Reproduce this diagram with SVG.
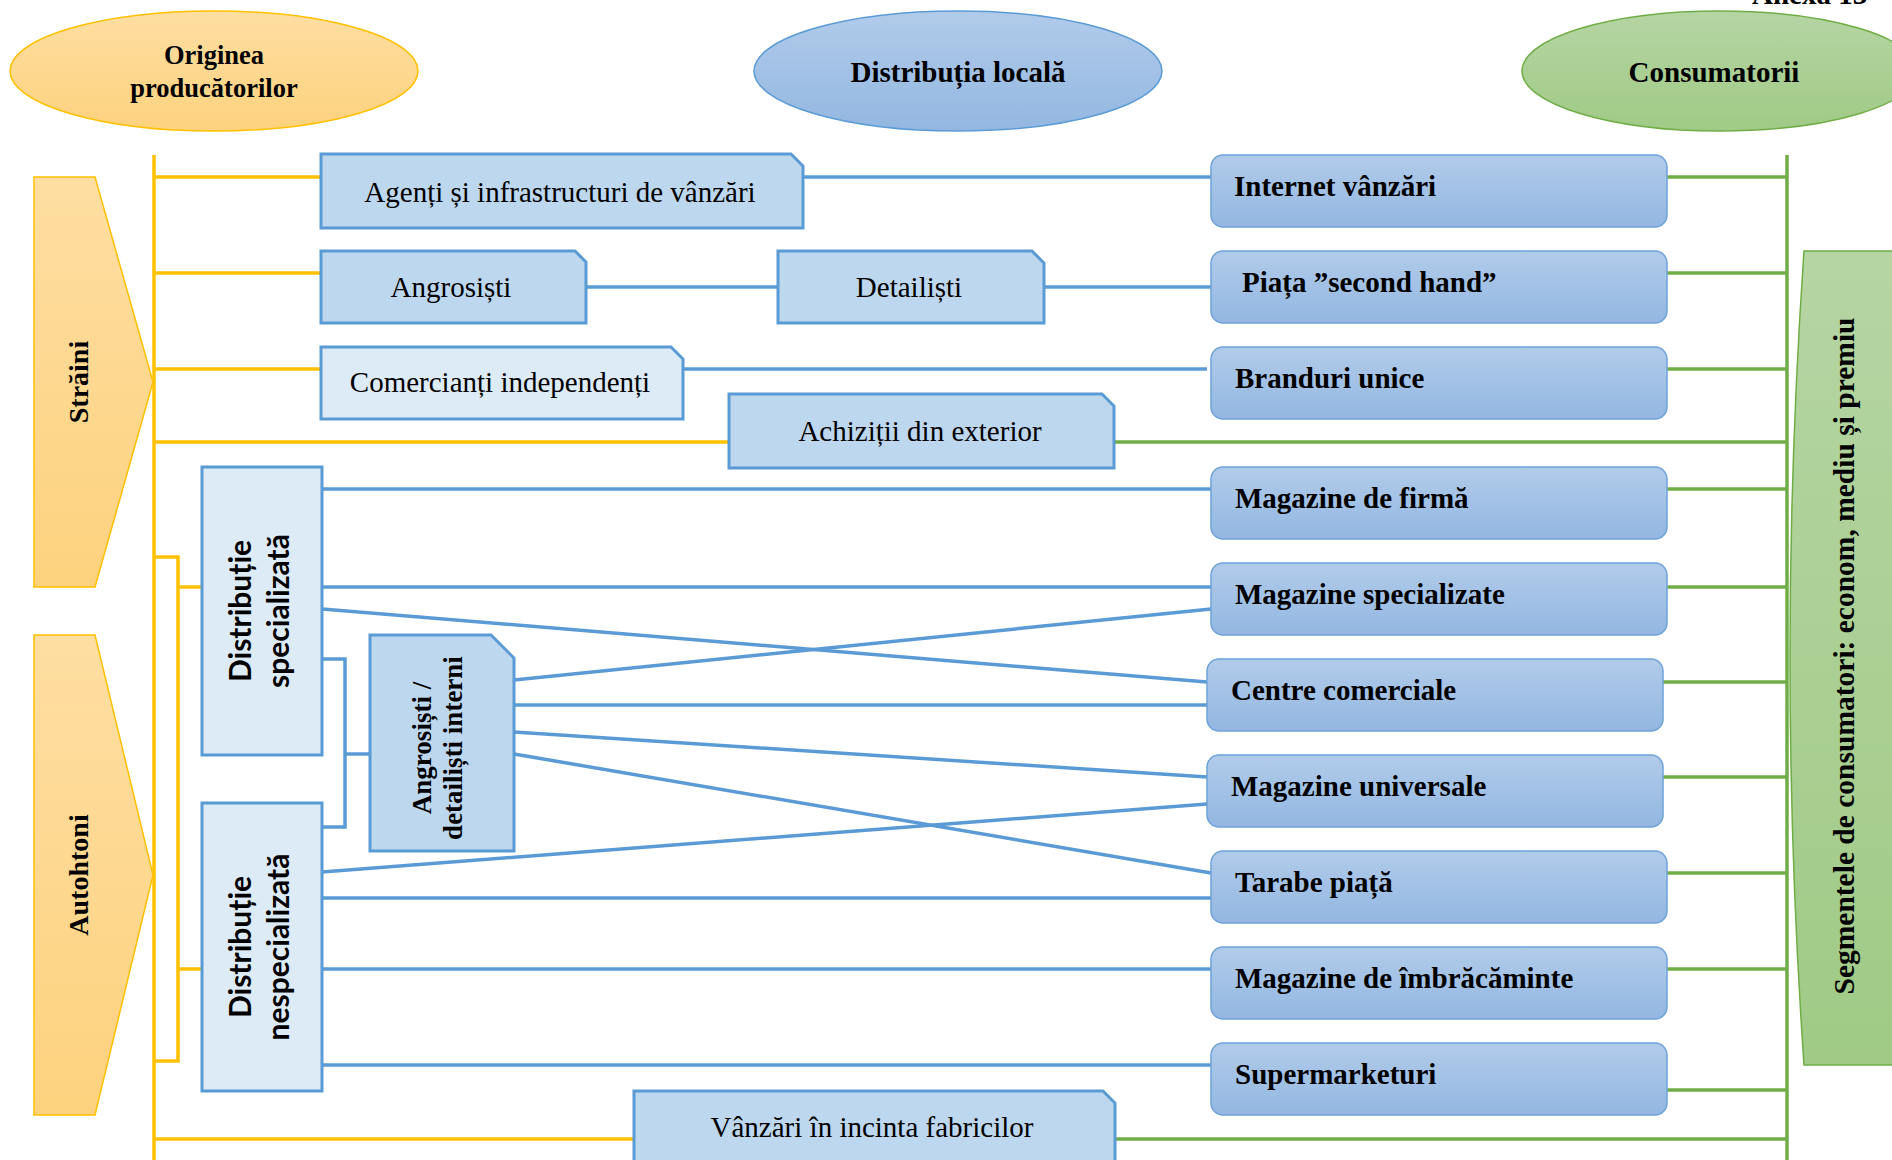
<svg xmlns="http://www.w3.org/2000/svg" width="1892" height="1160" viewBox="0 0 1892 1160">
  <defs>
    <linearGradient id="gOrange" x1="0" y1="0" x2="0" y2="1">
      <stop offset="0" stop-color="#fedea2"/>
      <stop offset="1" stop-color="#fdd27e"/>
    </linearGradient>
    <linearGradient id="gBlue" x1="0" y1="0" x2="0" y2="1">
      <stop offset="0" stop-color="#b1cbea"/>
      <stop offset="1" stop-color="#93b7e1"/>
    </linearGradient>
    <linearGradient id="gGreen" x1="0" y1="0" x2="0" y2="1">
      <stop offset="0" stop-color="#b5d5a3"/>
      <stop offset="1" stop-color="#a0ca86"/>
    </linearGradient>
    <style>
      .serif { font-family: "Liberation Serif", "Times New Roman", serif; fill: #000; }
      .b { font-weight: bold; }
      .title { font-size: 29px; font-weight: bold; text-anchor: middle; }
      .lbl { font-size: 29px; text-anchor: middle; }
      .rlbl { font-size: 29px; font-weight: bold; }
      .sans { font-family: Lato, "Liberation Sans", Arial, sans-serif; font-weight: bold; font-size: 30px; text-anchor: middle; fill: #000; }
      .snip { fill: #bdd7ee; stroke: #5b9bd5; stroke-width: 3; }
      .pale { fill: #ddebf7; stroke: #5b9bd5; stroke-width: 3; }
      .rbox { fill: url(#gBlue); stroke: #6ea2d9; stroke-width: 1.5; }
      .origin { fill: url(#gOrange); stroke: #ffc000; stroke-width: 1.5; }
      .yl { stroke: #ffc000; stroke-width: 3.5; fill: none; }
      .bl { stroke: #5b9bd5; stroke-width: 3.5; fill: none; }
      .gl { stroke: #70ad47; stroke-width: 3.5; fill: none; }
    </style>
  </defs>

  <rect width="1892" height="1160" fill="#fff"/>

  <!-- page label -->
  <text class="serif b" x="1752" y="4" font-size="29">Anexa 13</text>

  <!-- column headers -->
  <g id="hdr-origin">
    <ellipse cx="214" cy="71" rx="204" ry="60" class="origin"/>
    <text class="serif b" x="214" y="64" font-size="26.5" text-anchor="middle">Originea</text>
    <text class="serif b" x="214" y="97" font-size="26.5" text-anchor="middle">producătorilor</text>
  </g>
  <g id="hdr-local">
    <ellipse cx="958" cy="71" rx="204" ry="60" fill="url(#gBlue)" stroke="#5b9bd5" stroke-width="1.5"/>
    <text class="serif title" x="958" y="82">Distribuția locală</text>
  </g>
  <g id="hdr-consumers">
    <ellipse cx="1720" cy="71" rx="198" ry="60" fill="url(#gGreen)" stroke="#70ad47" stroke-width="1.5"/>
    <text class="serif title" x="1714" y="82">Consumatorii</text>
  </g>

  <!-- connectors -->
  <g id="connectors">
    <!-- producer side (yellow) -->
    <line class="yl" x1="154" y1="155" x2="154" y2="1160"/>
    <line class="yl" x1="154" y1="177" x2="321" y2="177"/>
    <line class="yl" x1="154" y1="273" x2="321" y2="273"/>
    <line class="yl" x1="154" y1="369" x2="321" y2="369"/>
    <line class="yl" x1="154" y1="442" x2="729" y2="442"/>
    <line class="yl" x1="154" y1="1139" x2="634" y2="1139"/>
    <polyline class="yl" points="154,557 178,557 178,1061 154,1061"/>
    <line class="yl" x1="178" y1="587" x2="202" y2="587"/>
    <line class="yl" x1="178" y1="969" x2="202" y2="969"/>

    <!-- local distribution (blue) -->
    <line class="bl" x1="803" y1="177" x2="1211" y2="177"/>
    <line class="bl" x1="586" y1="287" x2="778" y2="287"/>
    <line class="bl" x1="1044" y1="287" x2="1211" y2="287"/>
    <line class="bl" x1="683" y1="369" x2="1207" y2="369"/>
    <line class="bl" x1="322" y1="489" x2="1211" y2="489"/>
    <line class="bl" x1="322" y1="587" x2="1211" y2="587"/>
    <line class="bl" x1="322" y1="609" x2="1207" y2="682"/>
    <polyline class="bl" points="322,659 345,659 345,827 322,827"/>
    <line class="bl" x1="345" y1="754" x2="370" y2="754"/>
    <line class="bl" x1="514" y1="680" x2="1211" y2="609"/>
    <line class="bl" x1="514" y1="705" x2="1207" y2="705"/>
    <line class="bl" x1="514" y1="732" x2="1207" y2="777"/>
    <line class="bl" x1="514" y1="754" x2="1211" y2="873"/>
    <line class="bl" x1="322" y1="872" x2="1207" y2="804"/>
    <line class="bl" x1="322" y1="898" x2="1211" y2="898"/>
    <line class="bl" x1="322" y1="969" x2="1211" y2="969"/>
    <line class="bl" x1="322" y1="1065" x2="1211" y2="1065"/>

    <!-- consumer side (green) -->
    <line class="gl" x1="1787" y1="155" x2="1787" y2="1160"/>
    <line class="gl" x1="1667" y1="177" x2="1787" y2="177"/>
    <line class="gl" x1="1667" y1="273" x2="1787" y2="273"/>
    <line class="gl" x1="1667" y1="369" x2="1787" y2="369"/>
    <line class="gl" x1="1114" y1="442" x2="1787" y2="442"/>
    <line class="gl" x1="1667" y1="489" x2="1787" y2="489"/>
    <line class="gl" x1="1667" y1="587" x2="1787" y2="587"/>
    <line class="gl" x1="1663" y1="682" x2="1787" y2="682"/>
    <line class="gl" x1="1663" y1="777" x2="1787" y2="777"/>
    <line class="gl" x1="1667" y1="873" x2="1787" y2="873"/>
    <line class="gl" x1="1667" y1="969" x2="1787" y2="969"/>
    <line class="gl" x1="1667" y1="1090" x2="1787" y2="1090"/>
    <line class="gl" x1="1114" y1="1139" x2="1787" y2="1139"/>
  </g>

  <!-- producer origin arrows -->
  <g id="straini">
    <path class="origin" d="M34 177 H95 L153 382 L95 587 H34 Z"/>
    <text class="serif b" font-size="28" text-anchor="middle" transform="translate(88 382) rotate(-90)">Străini</text>
  </g>
  <g id="autohtoni">
    <path class="origin" d="M34 635 H95 L153 875 L95 1115 H34 Z"/>
    <text class="serif b" font-size="28" text-anchor="middle" transform="translate(88 875) rotate(-90)">Autohtoni</text>
  </g>

  <!-- intermediaries -->
  <g id="agenti">
    <path class="snip" d="M321 154 H791 L803 166 V228 H321 Z"/>
    <text class="serif lbl" x="560" y="202">Agenți și infrastructuri de vânzări</text>
  </g>
  <g id="angrosisti">
    <path class="snip" d="M321 251 H575 L586 262 V323 H321 Z"/>
    <text class="serif lbl" x="451" y="297">Angrosiști</text>
  </g>
  <g id="detailisti">
    <path class="snip" d="M778 251 H1032 L1044 263 V323 H778 Z"/>
    <text class="serif lbl" x="909" y="297">Detailiști</text>
  </g>
  <g id="comercianti">
    <path class="pale" d="M321 347 H671 L683 359 V419 H321 Z"/>
    <text class="serif lbl" x="500" y="392">Comercianți independenți</text>
  </g>
  <g id="achizitii">
    <path class="snip" d="M729 394 H1102 L1114 406 V468 H729 Z"/>
    <text class="serif lbl" x="920" y="441">Achiziții din exterior</text>
  </g>
  <g id="dist-spec">
    <rect class="pale" x="202" y="467" width="120" height="288"/>
    <text class="sans" transform="translate(251 611) rotate(-90)">Distribuție</text>
    <text class="sans" transform="translate(289 611) rotate(-90)">specializată</text>
  </g>
  <g id="dist-nespec">
    <rect class="pale" x="202" y="803" width="120" height="288"/>
    <text class="sans" transform="translate(251 947) rotate(-90)">Distribuție</text>
    <text class="sans" transform="translate(289 947) rotate(-90)">nespecializată</text>
  </g>
  <g id="angro-interni">
    <path class="snip" d="M370 635 H491 L514 658 V851 H370 Z"/>
    <text class="serif b" font-size="27" text-anchor="middle" transform="translate(431 748) rotate(-90)">Angrosiști /</text>
    <text class="serif b" font-size="27" text-anchor="middle" transform="translate(462 748) rotate(-90)">detailiști interni</text>
  </g>
  <g id="vanzari-fabrici">
    <path class="snip" d="M634 1091 H1103 L1115 1103 V1175 H634 Z"/>
    <text class="serif lbl" x="872" y="1137">Vânzări în incinta fabricilor</text>
  </g>

  <!-- retail channels -->
  <g id="internet">
    <rect class="rbox" x="1211" y="155" width="456" height="72" rx="12"/>
    <text class="serif rlbl" x="1234" y="196">Internet vânzări</text>
  </g>
  <g id="second-hand">
    <rect class="rbox" x="1211" y="251" width="456" height="72" rx="12"/>
    <text class="serif rlbl" x="1242" y="292">Piața ”second hand”</text>
  </g>
  <g id="branduri">
    <rect class="rbox" x="1211" y="347" width="456" height="72" rx="12"/>
    <text class="serif rlbl" x="1235" y="388">Branduri unice</text>
  </g>
  <g id="mag-firma">
    <rect class="rbox" x="1211" y="467" width="456" height="72" rx="12"/>
    <text class="serif rlbl" x="1235" y="508">Magazine de firmă</text>
  </g>
  <g id="mag-spec">
    <rect class="rbox" x="1211" y="563" width="456" height="72" rx="12"/>
    <text class="serif rlbl" x="1235" y="604">Magazine specializate</text>
  </g>
  <g id="centre">
    <rect class="rbox" x="1207" y="659" width="456" height="72" rx="12"/>
    <text class="serif rlbl" x="1231" y="700">Centre comerciale</text>
  </g>
  <g id="mag-univ">
    <rect class="rbox" x="1207" y="755" width="456" height="72" rx="12"/>
    <text class="serif rlbl" x="1231" y="796">Magazine universale</text>
  </g>
  <g id="tarabe">
    <rect class="rbox" x="1211" y="851" width="456" height="72" rx="12"/>
    <text class="serif rlbl" x="1235" y="892">Tarabe piață</text>
  </g>
  <g id="mag-imbracaminte">
    <rect class="rbox" x="1211" y="947" width="456" height="72" rx="12"/>
    <text class="serif rlbl" x="1235" y="988">Magazine de îmbrăcăminte</text>
  </g>
  <g id="supermarket">
    <rect class="rbox" x="1211" y="1043" width="456" height="72" rx="12"/>
    <text class="serif rlbl" x="1235" y="1084">Supermarketuri</text>
  </g>

  <!-- consumer segments -->
  <g id="segmente">
    <path d="M1804 251 Q1776 658 1804 1065 H1900 V251 Z" fill="url(#gGreen)" stroke="#70ad47" stroke-width="1.5"/>
    <text class="serif b" font-size="29.5" text-anchor="middle" transform="translate(1854 656) rotate(-90)">Segmentele de consumatori: econom, mediu și premiu</text>
  </g>
</svg>
